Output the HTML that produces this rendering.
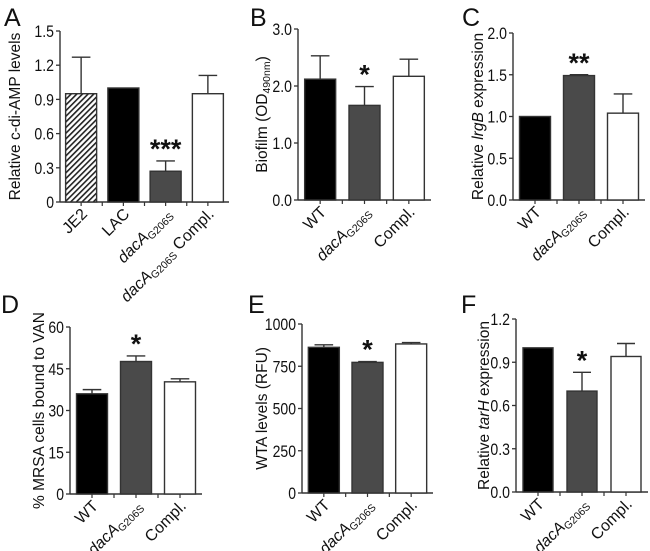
<!DOCTYPE html>
<html><head><meta charset="utf-8"><style>
body{margin:0;background:#fff}
svg{display:block;font-family:"Liberation Sans",Arial,sans-serif}
</style></head><body>
<svg id="fig" width="650" height="551" viewBox="0 0 650 551" xmlns="http://www.w3.org/2000/svg">
<defs>
<pattern id="hatch" patternUnits="userSpaceOnUse" width="4" height="4" patternTransform="rotate(45)">
<rect width="4" height="4" fill="#fff"/><rect width="1.6" height="4" fill="#222"/>
</pattern>
</defs>
</svg>
<script>
const NS="http://www.w3.org/2000/svg";
const svg=document.getElementById('fig');
// Panel A
const catsA=["JE2","LAC","dacA|G206S","dacA|G206S| Compl."];
const valsA=[0.95,1.0,0.27,0.95];
const errA=[0.32,0,0.09,0.16];
const ticksA=["0","0.3","0.6","0.9","1.2","1.5"];
// Panel B
const catsB=["WT","dacA|G206S","Compl."];
const valsB=[2.12,1.66,2.17];
const errB=[0.41,0.33,0.3];
const ticksB=["0.0","1.0","2.0","3.0"];
// Panel C
const catsC=["WT","dacA|G206S","Compl."];
const valsC=[1.0,1.49,1.04];
const errC=[0,0.01,0.23];
const ticksC=["0.0","0.5","1.0","1.5","2.0"];
// Panel D
const catsD=["WT","dacA|G206S","Compl."];
const valsD=[36,47.6,40.3];
const errD=[1.5,2,1.1];
const ticksD=["0","15","30","45","60"];
// Panel E
const catsE=["WT","dacA|G206S","Compl."];
const valsE=[862,773,882];
const errE=[15,5,8];
const ticksE=["0","250","500","750","1000"];
// Panel F
const catsF=["WT","dacA|G206S","Compl."];
const valsF=[1.0,0.70,0.94];
const errF=[0,0.13,0.09];
const ticksF=["0.0","0.3","0.6","0.9","1.2"];

function mk(tag,attrs,parent){const e=document.createElementNS(NS,tag);for(const k in attrs)e.setAttribute(k,attrs[k]);(parent||svg).appendChild(e);return e;}

function panel(o){
  const g=mk('g',{});
  
  
  const max=parseFloat(o.ticks[o.ticks.length-1]);
  const y=v=>o.y0-(v/max)*(o.y0-o.y1);
  const L=mk('text',{x:o.lx,y:o.ly,'font-size':25,fill:'#111'},g);L.textContent=o.id;
  
  
  const ax=mk('line',{x1:o.ax,y1:o.y1,x2:o.ax,y2:o.y0,stroke:'#333','stroke-width':1.4},g);
  
  
  const xa=mk('line',{x1:o.ax,y1:o.y0,x2:o.xend,y2:o.y0,stroke:'#333','stroke-width':1.4},g);
  
  
  o.ticks.forEach(t=>{
    const v=parseFloat(t);const yy=y(v);
    mk('line',{x1:o.ax-4,y1:yy,x2:o.ax,y2:yy,stroke:'#333','stroke-width':1.3},g);
    const dots=(t.match(/\./g)||[]).length;
    const tl=(t.length-dots)*7.8+dots*4;
    const tx=mk('text',{x:o.ax-6,y:yy+6,'font-size':17,'text-anchor':'end',fill:'#111',textLength:tl,lengthAdjust:'spacingAndGlyphs'},g);
    tx.textContent=t;
    
    
  });
  const yt=mk('text',{transform:`translate(${o.tx},${(o.y0+o.y1)/2}) rotate(-90)`,'font-size':15.5,'text-anchor':'middle',fill:'#111'},g);
  yt.innerHTML=o.title;
  
  
  const n=o.cats.length;
  const step=(o.xend-o.ax)/n;
  o.cats.forEach((c,i)=>{
    const cx=o.ax+step*(i+0.5);
    const bw=o.bw;
    const v=o.vals[i];
    const e=o.err[i];
    if(e>0){
      const el=mk('line',{x1:cx,y1:y(v),x2:cx,y2:y(v+e),stroke:'#333','stroke-width':1.4},g);
      
      
      mk('line',{x1:cx-bw*0.3,y1:y(v+e),x2:cx+bw*0.3,y2:y(v+e),stroke:'#333','stroke-width':1.4},g);
    }
    const r=mk('rect',{x:cx-bw/2,y:y(v),width:bw,height:o.y0-y(v),fill:o.fills[i],stroke:'#333','stroke-width':1.4},g);
    
    
    if(i>0) mk('line',{x1:o.ax+step*i,y1:o.y0,x2:o.ax+step*i,y2:o.y0+4,stroke:'#333','stroke-width':1.2},g);
    mk('line',{x1:cx,y1:o.y0,x2:cx,y2:o.y0+4,stroke:'#333','stroke-width':1.2},g);
    const lb=mk('text',{transform:`translate(${cx+7},${o.y0+13}) rotate(-45)`,'font-size':16,'text-anchor':'end',fill:'#111'},g);
    const parts=c.split('|');
    if(parts.length===1) lb.textContent=c;
    else{
      let h=`<tspan font-style="italic">${parts[0]}</tspan><tspan font-size="10.5" dy="3">${parts[1]}</tspan>`;
      if(parts[2]) h+=`<tspan dy="-3">${parts[2]}</tspan>`;
      lb.innerHTML=h;
    }
    
    
    if(o.stars[i]){
      const s=mk('text',{x:cx,y:y(v+e)-3,'font-size':27,'font-weight':'bold','text-anchor':'middle',fill:'#111'},g);
      s.textContent=o.stars[i];
      
      
    }
  });
}
const F3=['#000','#4a4a4a','#fff'];
panel({id:'A',lx:4,ly:26,ax:60,y0:202,y1:31,xend:229,tx:20,cats:catsA,vals:valsA,err:errA,ticks:ticksA,bw:31,
  fills:['url(#hatch)','#000','#4a4a4a','#fff'],stars:['','','***',''],title:'Relative c-di-AMP levels'});
panel({id:'B',lx:250,ly:26,ax:298,y0:200,y1:29,xend:431,tx:267,cats:catsB,vals:valsB,err:errB,ticks:ticksB,bw:31,
  fills:F3,stars:['','*',''],title:'Biofilm (OD<tspan font-size="10.5" dy="3">490nm</tspan><tspan dy="-3">)</tspan>'});
panel({id:'C',lx:462,ly:26,ax:513,y0:200,y1:33,xend:645,tx:483,cats:catsC,vals:valsC,err:errC,ticks:ticksC,bw:31,
  fills:F3,stars:['','**',''],title:'Relative <tspan font-style="italic">lrgB</tspan> expression'});
panel({id:'D',lx:1,ly:313,ax:70,y0:494,y1:327,xend:202,tx:44,cats:catsD,vals:valsD,err:errD,ticks:ticksD,bw:31,
  fills:F3,stars:['','*',''],title:'% MRSA cells bound to VAN'});
panel({id:'E',lx:248,ly:313,ax:302,y0:493,y1:324,xend:433,tx:267,cats:catsE,vals:valsE,err:errE,ticks:ticksE,bw:31,
  fills:F3,stars:['','*',''],title:'WTA levels (RFU)'});
panel({id:'F',lx:461,ly:313,ax:516,y0:492,y1:319,xend:648,tx:489,cats:catsF,vals:valsF,err:errF,ticks:ticksF,bw:30,
  fills:F3,stars:['','*',''],title:'Relative <tspan font-style="italic">tarH</tspan> expression'});
</script>
</body></html>
